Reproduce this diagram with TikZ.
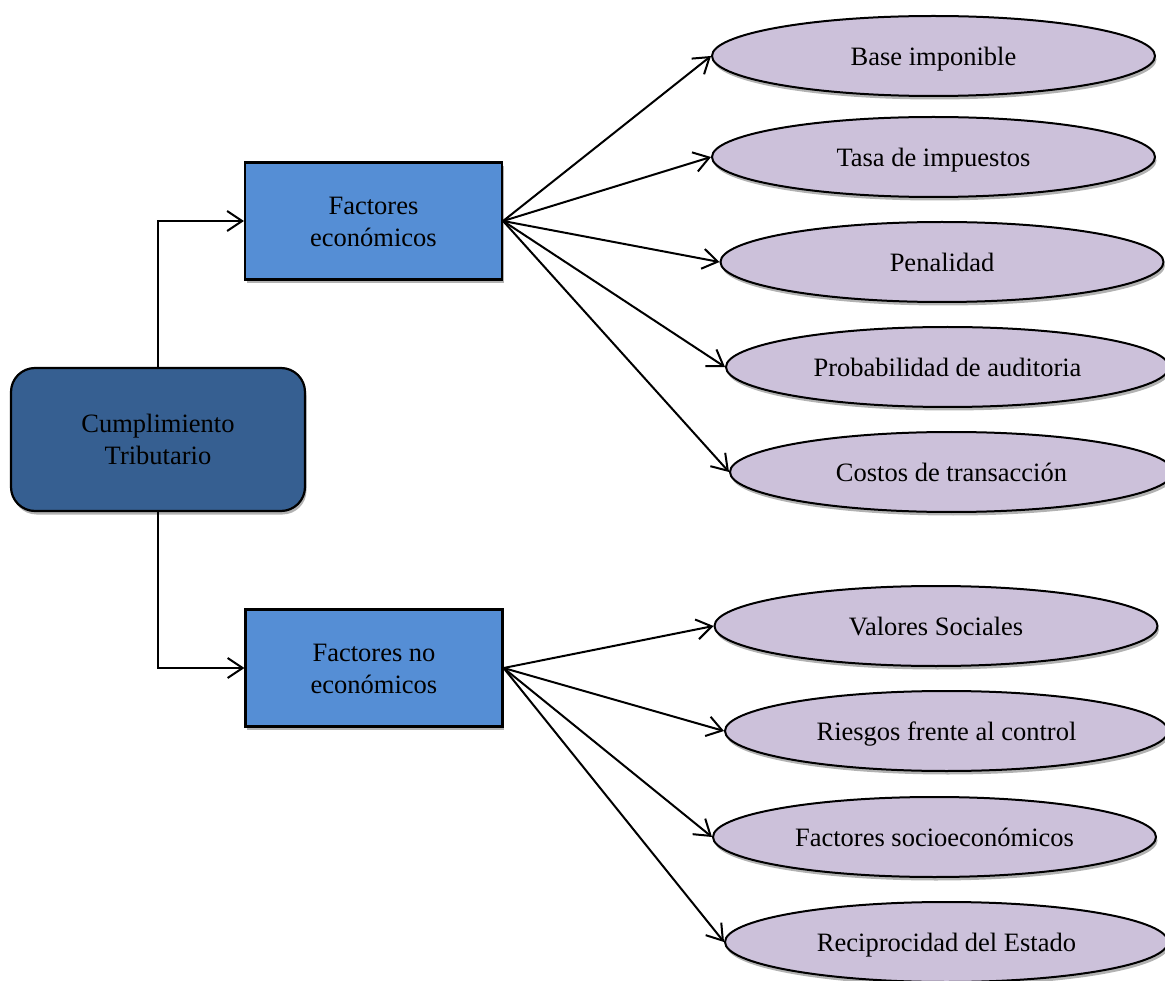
\documentclass[tikz,border=0pt]{standalone}
\usepackage{fontspec}
\setmainfont{Liberation Serif}
\usetikzlibrary{shapes.geometric,arrows.meta,shadows}
\definecolor{darkbox}{RGB}{54,95,145}
\definecolor{midbox}{RGB}{85,142,213}
\definecolor{lav}{RGB}{204,193,218}
\newcommand{\lowtxt}[1]{\raisebox{-2.8pt}[\height][\depth]{\begin{tabular}{@{}c@{}}#1\end{tabular}}}
\tikzset{
  shad/.style={drop shadow={shadow xshift=1.5pt,shadow yshift=-3.5pt,opacity=0.3,fill=black}},
  rootbox/.style={draw=black,line width=2.2pt,fill=darkbox,rounded corners=24pt,minimum width=294pt,minimum height=143pt,align=center,font=\fontsize{26.5}{31.8}\selectfont,shad},
  factbox/.style={draw=black,line width=2.2pt,fill=midbox,minimum width=257pt,minimum height=117pt,align=center,font=\fontsize{26.5}{31.8}\selectfont,shad},
  leaf/.style={ellipse,draw=black,line width=2pt,fill=lav,minimum width=443pt,minimum height=80pt,inner sep=0pt,font=\fontsize{26.5}{31.8}\selectfont,shad},
  conn/.style={line width=2pt,-{Straight Barb[length=15pt,width=20pt,line width=2pt]}}
}
\begin{document}
\begin{tikzpicture}[x=1pt,y=-1pt]
\useasboundingbox (0,0) rectangle (1165,981);
\node[rootbox] (cum) at (158,439.5) {\lowtxt{Cumplimiento\\Tributario}};
\node[factbox] (fe) at (373.5,221) {\lowtxt{Factores\\económicos}};
\node[factbox] (fne) at (374,668) {\lowtxt{Factores no\\económicos}};
\node[leaf] (e1) at (933.5,56) {\lowtxt{Base imponible}};
\node[leaf] (e2) at (933.5,157) {\lowtxt{Tasa de impuestos}};
\node[leaf] (e3) at (942,262) {\lowtxt{Penalidad}};
\node[leaf] (e4) at (947.5,367) {\lowtxt{Probabilidad de auditoria}};
\node[leaf] (e5) at (951.5,472) {\lowtxt{Costos de transacción}};
\node[leaf] (n1) at (936,626) {\lowtxt{Valores Sociales}};
\node[leaf] (n2) at (946.5,731) {\lowtxt{Riesgos frente al control}};
\node[leaf] (n3) at (934.5,837) {\lowtxt{Factores socioeconómicos}};
\node[leaf] (n4) at (946.5,942) {\lowtxt{Reciprocidad del Estado}};
\draw[conn] (cum.north) |- (fe.west);
\draw[conn] (cum.south) |- (fne.west);
\foreach \t in {e1,e2,e3,e4,e5} \draw[conn] (fe.east) -- (\t.west);
\foreach \t in {n1,n2,n3,n4} \draw[conn] (fne.east) -- (\t.west);
\end{tikzpicture}
\end{document}
